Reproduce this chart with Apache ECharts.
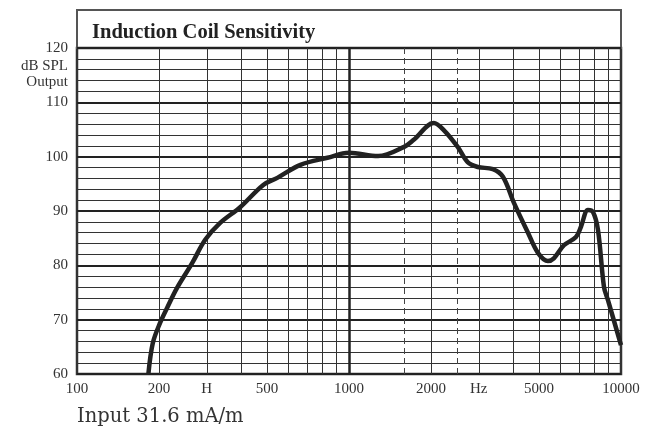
<!DOCTYPE html>
<html>
<head>
<meta charset="utf-8">
<script src="https://cdn.jsdelivr.net/npm/echarts@6/dist/echarts.min.js"></script>
<style>
  html, body { margin: 0; padding: 0; background: #ffffff; }
  #chart { width: 650px; height: 430px; }
</style>
</head>
<body>
<div id="chart"></div>
<script>
// curve (Hz, dB SPL)
const freq = [183, 190, 202, 215, 233, 265, 296, 336, 398, 484, 545, 663, 833, 1000, 1280, 1595, 1730, 2050, 2230, 2510, 2730, 2975, 3380, 3680, 4040, 4550, 4950, 5385, 5665, 6170, 6830, 7125, 7560, 7890, 8230, 8660, 8955, 10000]
const dbOut = [60, 65.7, 69.4, 72.3, 75.8, 80.4, 84.7, 87.8, 90.7, 94.8, 96.1, 98.5, 99.8, 100.7, 100.1, 101.8, 103.1, 106.2, 104.9, 101.8, 99.0, 98.1, 97.7, 96.3, 91.5, 86.0, 82.3, 80.8, 81.3, 83.7, 85.2, 87.1, 90.2, 89.8, 86.5, 76.0, 73.6, 65.3]

// axis stuff
const xLabelValues = [100, 200, 300, 500, 1000, 2000, 3000, 5000, 10000]
const xLabelText = { 300: 'H', 3000: 'Hz' }
const gridFreqs = [200, 300, 400, 500, 600, 700, 800, 900, 2000, 3000, 4000, 5000, 6000, 7000, 8000, 9000]
const dashedFreqs = [1600, 2500]

const serif = '"Liberation Serif", "DejaVu Serif", serif'
const chart = echarts.init(document.getElementById('chart'))

const vLines = gridFreqs.map(f => ({ xAxis: f }))
vLines.push({ xAxis: 1000, lineStyle: { width: 2.5, color: '#222' } })
dashedFreqs.forEach(f => vLines.push({ xAxis: f, lineStyle: { type: [6, 4], color: '#444' } }))

chart.setOption({
  animation: false,
  backgroundColor: '#ffffff',
  title: [
    {
      text: 'Induction Coil Sensitivity',
      left: 92,
      top: 22,
      padding: 0,
      textStyle: { fontFamily: serif, fontWeight: 'bold', fontSize: 20.5, color: '#222' }
    },
    {
      text: 'dB SPL\nOutput',
      left: 68,
      top: 58,
      padding: 0,
      textAlign: 'right',
      textStyle: { fontFamily: serif, fontWeight: 'normal', fontSize: 15, lineHeight: 16, color: '#333' }
    },
    {
      text: 'Input 31.6 mA/m',
      left: 77,
      top: 407,
      padding: 0,
      textStyle: { fontFamily: '"DejaVu Serif", serif', fontWeight: 'normal', fontSize: 19.5, color: '#333' }
    }
  ],
  graphic: [
    {
      type: 'rect',
      shape: { x: 77, y: 10, width: 544, height: 38 },
      style: { fill: 'none', stroke: '#555', lineWidth: 2 },
      silent: true
    }
  ],
  grid: {
    left: 77,
    right: 29,
    top: 48,
    bottom: 56,
    show: true,
    borderColor: '#333',
    borderWidth: 2.5
  },
  xAxis: {
    type: 'log',
    logBase: 10,
    min: 100,
    max: 10000,
    axisLine: { show: false },
    axisTick: { show: false },
    splitLine: { show: false },
    axisLabel: {
      customValues: xLabelValues,
      margin: 8,
      fontFamily: serif,
      fontSize: 15,
      color: '#333',
      formatter: v => {
        const r = Math.round(v)
        return xLabelText[r] || String(r)
      }
    }
  },
  yAxis: {
    type: 'value',
    min: 60,
    max: 120,
    interval: 10,
    axisLine: { show: false },
    axisTick: { show: false },
    axisLabel: { margin: 9, fontFamily: serif, fontSize: 15, color: '#333' },
    splitLine: { lineStyle: { color: '#222', width: 2 } },
    minorTick: { show: false, splitNumber: 5 },
    minorSplitLine: { show: true, lineStyle: { color: '#333', width: 1 } }
  },
  series: [
    {
      type: 'line',
      data: [],
      z: 1,
      markLine: {
        silent: true,
        symbol: 'none',
        label: { show: false },
        lineStyle: { color: '#333', width: 1, type: 'solid' },
        data: vLines
      }
    },
    {
      type: 'line',
      data: freq.map((f, i) => [f, dbOut[i]]),
      z: 5,
      smooth: 0.35,
      showSymbol: false,
      clip: true,
      lineStyle: { color: '#222', width: 4.5 }
    }
  ]
})
</script>
</body>
</html>
